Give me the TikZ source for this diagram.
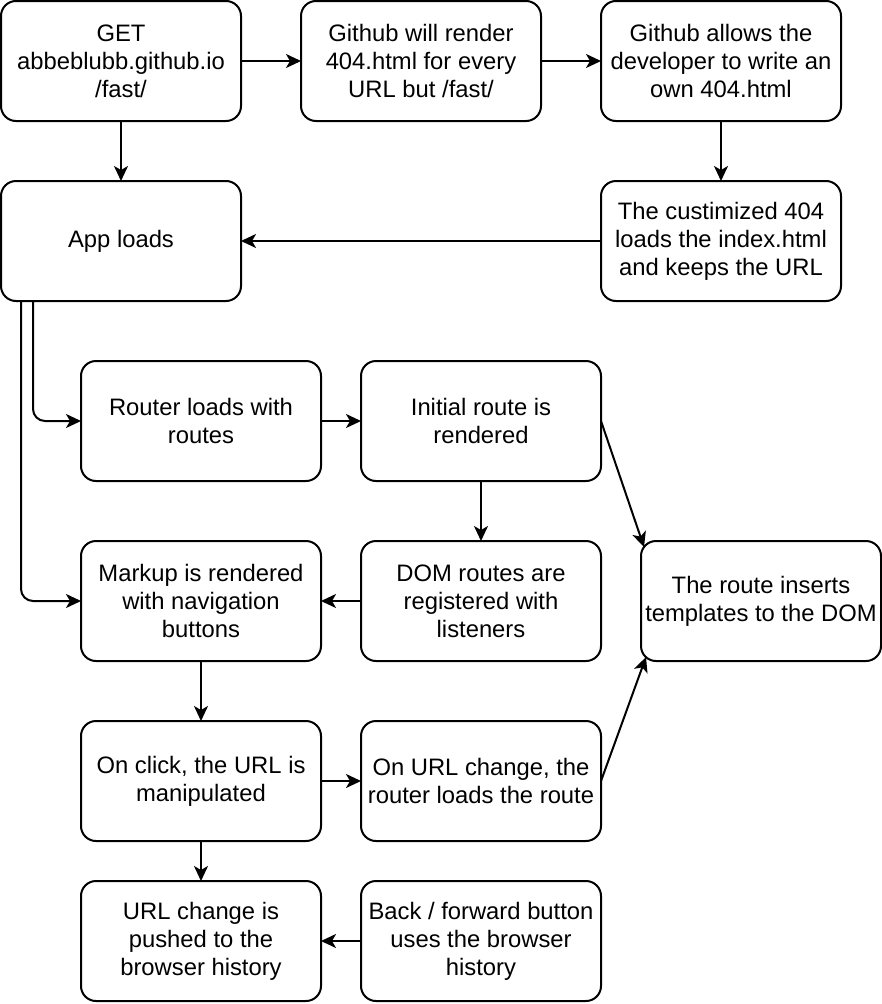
\documentclass[tikz,border=0pt]{standalone}
\usepackage{fontspec}
\setmainfont{Liberation Sans}
\usetikzlibrary{positioning,arrows.meta}
\tikzset{
flowpic/.style={
  x=1pt,y=-1pt
    ,node distance=60pt
    ,>={Stealth[length=15pt,width=14pt,inset=4pt]}
}
,stepbox/.style={draw=black,line width=2pt,rounded corners=15pt
  ,minimum width=240pt,minimum height=120pt
  ,inner sep=0pt,outer sep=0pt,align=center
  ,font=\fontsize{23.8pt}{28pt}\selectfont}
,flow/.style={->,line width=2pt,draw=black}
,elbow/.style={flow,rounded corners=12pt}
}

\begin{document}
\begin{tikzpicture}[flowpic]
  \useasboundingbox (0,0) rectangle (882,1004);
  % top row
  \node[stepbox] (get) at (121,61) {GET\\abbeblubb.github.io\\/fast/};
  \node[stepbox,right=of get] (render) {Github will render\\404.html for every\\URL but /fast/};
  \node[stepbox,right=of render] (allows) {Github allows the\\developer to write an\\own 404.html};
  % second row
  \node[stepbox,below=of get] (app) {App loads};
  \node[stepbox,below=of allows] (custom) {The custimized 404\\loads the index.html\\and keeps the URL};
  % app steps
  \node[stepbox,below=of app,xshift=80pt] (router) {Router loads with\\routes};
  \node[stepbox,right=40pt of router] (initial) {Initial route is\\rendered};
  \node[stepbox,below=of router] (markup) {Markup is rendered\\with navigation\\buttons};
  \node[stepbox,right=40pt of markup] (dom) {DOM routes are\\registered with\\listeners};
  \node[stepbox,right=40pt of dom] (inserts) {The route inserts\\templates to the DOM};
  \node[stepbox,below=of markup] (click) {On click, the URL is\\manipulated};
  \node[stepbox,right=40pt of click] (change) {On URL change, the\\router loads the route};
  \node[stepbox,below=40pt of click] (pushed) {URL change is\\pushed to the\\browser history};
  \node[stepbox,right=40pt of pushed] (back) {Back / forward button\\uses the browser\\history};
  % connectors
  \draw[flow] (get) -- (render);
  \draw[flow] (render) -- (allows);
  \draw[flow] (get) -- (app);
  \draw[flow] (allows) -- (custom);
  \draw[flow] (custom) -- (app);
  \draw[elbow] ([xshift=-88pt]app.south) |- (router.west);
  \draw[elbow] ([xshift=-100pt]app.south) |- (markup.west);
  \draw[flow] (router) -- (initial);
  \draw[flow] (initial) -- (dom);
  \draw[flow] (initial.east) -- ([shift={(3,6)}]inserts.north west);
  \draw[flow] (dom) -- (markup);
  \draw[flow] (markup) -- (click);
  \draw[flow] (click) -- (change);
  \draw[flow] (change.east) -- ([shift={(5,-4)}]inserts.south west);
  \draw[flow] (click) -- (pushed);
  \draw[flow] (back) -- (pushed);
\end{tikzpicture}
\end{document}
